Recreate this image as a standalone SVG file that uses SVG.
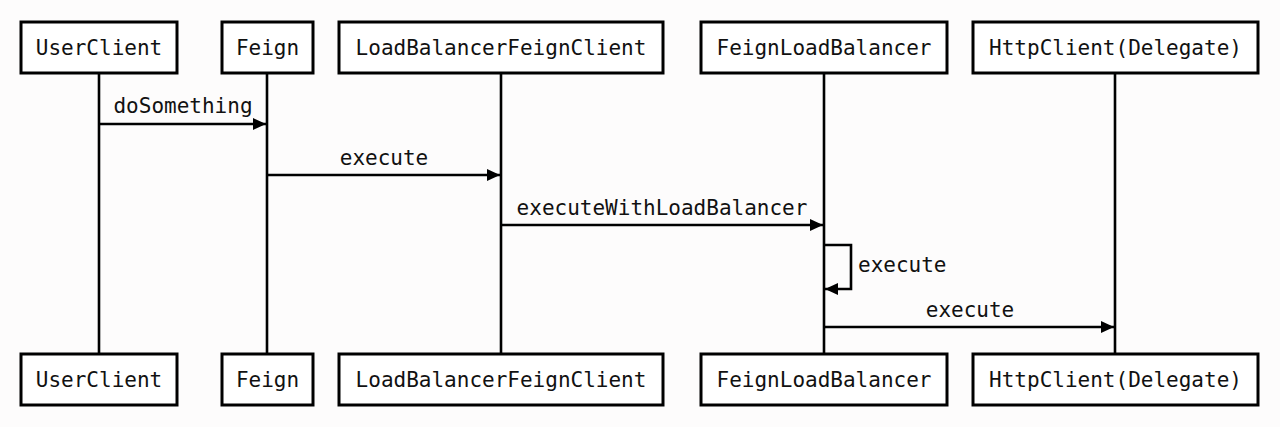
<svg xmlns="http://www.w3.org/2000/svg" width="1280" height="427" viewBox="0 0 1280 427">
<style>
.box{fill:#fff;stroke:#000;stroke-width:3}
.life{stroke:#000;stroke-width:2.6;fill:none}
.msg{stroke:#000;stroke-width:2.6;fill:none}
text{font-family:"DejaVu Sans Mono","Liberation Mono",monospace;font-size:21px;fill:#111}
.c{text-anchor:middle}
</style>
<defs>
<marker id="ah" markerUnits="userSpaceOnUse" markerWidth="14" markerHeight="12" refX="13" refY="6" orient="auto">
<path d="M0,0 L13,6 L0,12 Z" fill="#000"/>
</marker>
</defs>
<rect width="1280" height="427" fill="#fdfcfc"/>
<g id="lifelines">
<line class="life" x1="99" y1="73" x2="99" y2="354"/>
<line class="life" x1="267" y1="73" x2="267" y2="354"/>
<line class="life" x1="501" y1="73" x2="501" y2="354"/>
<line class="life" x1="824" y1="73" x2="824" y2="354"/>
<line class="life" x1="1115" y1="73" x2="1115" y2="354"/>
</g>
<g id="connectors">
<line class="msg" x1="99" y1="124" x2="266" y2="124" marker-end="url(#ah)"/>
<text class="c" x="183" y="113">doSomething</text>
<line class="msg" x1="267" y1="175" x2="500" y2="175" marker-end="url(#ah)"/>
<text class="c" x="384" y="165">execute</text>
<line class="msg" x1="501" y1="225" x2="823" y2="225" marker-end="url(#ah)"/>
<text class="c" x="662" y="215">executeWithLoadBalancer</text>
<path class="msg" d="M824,245 H851 V289 H825" marker-end="url(#ah)"/>
<text x="858" y="272">execute</text>
<line class="msg" x1="824" y1="327" x2="1114" y2="327" marker-end="url(#ah)"/>
<text class="c" x="970" y="317">execute</text>
</g>
<g id="UserClient-top"><rect class="box" x="21" y="22" width="156" height="51"/><text class="c" x="99" y="55">UserClient</text></g>
<g id="Feign-top"><rect class="box" x="222" y="22" width="91" height="51"/><text class="c" x="267.5" y="55">Feign</text></g>
<g id="LoadBalancerFeignClient-top"><rect class="box" x="339" y="22" width="324" height="51"/><text class="c" x="501" y="55">LoadBalancerFeignClient</text></g>
<g id="FeignLoadBalancer-top"><rect class="box" x="701" y="22" width="246" height="51"/><text class="c" x="824" y="55">FeignLoadBalancer</text></g>
<g id="HttpClient-top"><rect class="box" x="973" y="22" width="285" height="51"/><text class="c" x="1115.5" y="55">HttpClient(Delegate)</text></g>
<g id="UserClient-bottom"><rect class="box" x="21" y="354" width="156" height="51"/><text class="c" x="99" y="387">UserClient</text></g>
<g id="Feign-bottom"><rect class="box" x="222" y="354" width="91" height="51"/><text class="c" x="267.5" y="387">Feign</text></g>
<g id="LoadBalancerFeignClient-bottom"><rect class="box" x="339" y="354" width="324" height="51"/><text class="c" x="501" y="387">LoadBalancerFeignClient</text></g>
<g id="FeignLoadBalancer-bottom"><rect class="box" x="701" y="354" width="246" height="51"/><text class="c" x="824" y="387">FeignLoadBalancer</text></g>
<g id="HttpClient-bottom"><rect class="box" x="973" y="354" width="285" height="51"/><text class="c" x="1115.5" y="387">HttpClient(Delegate)</text></g>
</svg>
